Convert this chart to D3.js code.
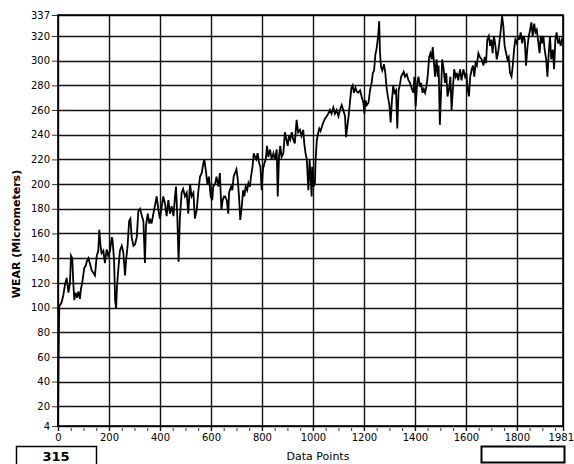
<!DOCTYPE html>
<html>
<head>
<meta charset="utf-8">
<script src="https://cdn.jsdelivr.net/npm/d3@7/dist/d3.min.js"></script>
<style>
  html, body { margin: 0; padding: 0; background: #fff; }
  svg { display: block; }
  .tick text { font-family: "DejaVu Sans", Verdana, sans-serif; font-size: 10px; fill: #000; }
</style>
</head>
<body>
<script>
// Sample positions (data point number) and measured wear in micrometers
const sampleIndex = [
  0,2,5,14,21,27,34,41,47,51,56,60,64,69,75,80,86,90,95,103,109,114,119,126,132,139,145,152,158,162,167,171,178,184,191,197,204,211,214,220,224,228,231,237,243,250,256,263,267,273,279,284,289,296,302,309,315,322,328,335,341,345,352,358,
  361,367,374,380,387,394,400,407,413,420,426,433,439,446,453,459,463,468,473,478,485,491,498,505,511,518,524,531,537,544,550,557,564,570,574,581,586,592,599,605,609,616,622,629,635,641,646,651,
  655,662,668,671,679,684,689,694,700,705,710,715,721,726,731,736,742,747,753,757,763,768,773,778,783,789,794,799,804,810,815,820,825,832,838,845,851,858,862,867,872,877,884,890,896,901,906,911,917,923,929,936,942,949,955,962,966,971,976,982,987,992,995,997,1003,1008,
  1010,1015,1020,1025,1030,1036,1041,1047,1054,1060,1067,1073,1080,1086,1093,1100,1106,1113,1119,1126,1130,1135,1140,1146,1151,1156,1161,1167,1172,1178,1185,1191,1198,1202,1206,1211,1218,1224,1231,1235,1240,1245,1250,1256,1260,1263,1267,1272,1279,1284,1289,1294,1300,1305,1310,1315,1320,1326,1331,1336,1341,1346,
  1351,1356,1361,1368,1375,1381,1388,1394,1398,1403,1409,1414,1419,1424,1430,1435,1440,1445,1450,1456,1461,1466,1470,1475,1479,1485,1490,1493,1498,1502,1507,1513,1518,1523,1528,1534,1539,1544,1549,1554,1560,1565,1570,1577,1583,1590,1597,1602,1607,1612,1617,1623,1628,1633,1638,1643,1649,1655,
  1662,1669,1674,1679,1684,1690,1695,1700,1705,1710,1716,1721,1726,1731,1737,1742,1747,1752,1758,1763,1768,1773,1779,1784,1789,1794,1800,1805,1810,1815,1821,1826,1831,1836,1842,1847,1852,1857,1862,1868,1873,1878,1883,1889,1894,1899,1904,1909,1915,1920,1925,1930,1935,1941,1946,1951,1956,1962,1967,1972,1977,1981
];
const wear = [
  4,57,101,104,110,118,124,112,120,142,140,120,106,112,108,113,107,115,120,132,134,138,140,135,130,128,126,142,146,163,150,144,146,136,147,142,146,157,155,138,106,99,116,132,146,150,145,126,138,150,170,172,157,150,151,157,178,180,175,170,136,166,176,168,
  172,168,176,182,190,179,172,182,190,184,174,187,176,182,174,190,198,174,137,172,193,196,190,193,176,200,190,193,172,179,193,206,209,217,220,209,200,206,190,187,198,200,206,198,209,179,187,190,
  190,187,176,193,198,195,206,209,212,204,190,171,182,195,190,198,195,201,198,206,214,225,222,220,225,217,214,195,212,217,220,231,222,228,220,225,220,228,190,222,231,222,225,242,236,231,239,236,242,236,233,252,242,244,239,244,233,225,220,195,220,201,190,214,198,201,
  217,235,241,245,243,247,250,253,255,257,260,257,262,257,260,255,260,264,260,255,238,247,255,268,278,280,274,278,275,274,276,271,266,257,268,264,266,276,283,290,292,305,310,320,332,307,295,292,297,290,278,271,264,250,268,280,274,276,245,276,280,287,
  289,291,287,289,284,282,277,274,287,263,282,287,279,282,274,277,274,279,287,303,306,301,311,298,287,301,287,296,248,271,301,293,282,290,271,277,287,260,277,293,287,290,284,293,284,293,287,290,277,271,287,293,296,287,298,296,306,303,
  301,296,303,298,317,320,312,317,306,320,312,301,306,314,325,336,328,312,306,301,303,290,287,296,309,317,314,320,317,323,314,320,317,296,312,320,325,331,320,330,323,325,317,306,320,314,320,309,301,287,306,320,301,309,293,317,323,314,317,312,317,315
];

// Axis tick values
const xTicks = [0, 200, 400, 600, 800, 1000, 1200, 1400, 1600, 1800, 1981];
const xMinorTicks = [50,100,150,250,300,350,450,500,550,650,700,750,850,900,950,1050,1100,1150,1250,1300,1350,1450,1500,1550,1650,1700,1750,1850,1900,1950];
const yTicks = [4, 20, 40, 60, 80, 100, 120, 140, 160, 180, 200, 220, 240, 260, 280, 300, 320, 337];

const xTitle = "Data Points";
const yTitle = "WEAR (Micrometers)";

const W = 574, H = 464;
const plot = { left: 58, right: 563, top: 15, bottom: 426 };

const svg = d3.select("body").append("svg")
  .attr("width", W).attr("height", H)
  .attr("viewBox", `0 0 ${W} ${H}`);

const x = d3.scaleLinear().domain([0, 1981]).range([plot.left, plot.right]);
const y = d3.scaleLinear().domain([4, 337]).range([plot.bottom, plot.top]);

// Grid
const grid = svg.append("g").attr("stroke", "#111").attr("stroke-width", 1.4);
grid.selectAll("line.h").data(yTicks).join("line")
  .attr("class", "h")
  .attr("x1", plot.left).attr("x2", plot.right)
  .attr("y1", d => Math.round(y(d)) + 0.5).attr("y2", d => Math.round(y(d)) + 0.5);
grid.selectAll("line.v").data(xTicks).join("line")
  .attr("class", "v")
  .attr("y1", plot.top).attr("y2", plot.bottom)
  .attr("x1", d => Math.round(x(d)) + 0.5).attr("x2", d => Math.round(x(d)) + 0.5);

// Axes
const yAxis = svg.append("g")
  .attr("transform", `translate(${plot.left},0)`)
  .call(d3.axisLeft(y).tickValues(yTicks).tickSize(6).tickPadding(2).tickFormat(d3.format("d")));
yAxis.select(".domain").remove();
yAxis.selectAll(".tick line").attr("stroke", "#333").attr("stroke-width", 1);

const xAxis = svg.append("g")
  .attr("transform", `translate(0,${plot.bottom})`)
  .call(d3.axisBottom(x).tickValues(xTicks).tickSize(5).tickPadding(3).tickFormat(d3.format("d")));
xAxis.select(".domain").remove();
xAxis.selectAll(".tick line").attr("stroke", "#111").attr("stroke-width", 1.4);
// keep the last label inside the canvas
xAxis.selectAll(".tick text").filter(d => d === 1981)
  .attr("text-anchor", "end").attr("x", 10.5);

const xMinor = svg.append("g")
  .attr("transform", `translate(0,${plot.bottom + 2})`)
  .call(d3.axisBottom(x).tickValues(xMinorTicks).tickSize(3).tickFormat(""));
xMinor.select(".domain").remove();
xMinor.selectAll(".tick line").attr("stroke", "#333").attr("stroke-width", 1);

// Wear trace
const series = sampleIndex.map((i, k) => [i, wear[k]]);
svg.append("path")
  .datum(series)
  .attr("fill", "none")
  .attr("stroke", "#000")
  .attr("stroke-width", 1.8)
  .attr("stroke-linejoin", "miter")
  .attr("d", d3.line().x(d => x(d[0])).y(d => y(d[1])));

// Plot frame
svg.append("rect")
  .attr("x", plot.left).attr("y", plot.top)
  .attr("width", plot.right - plot.left).attr("height", plot.bottom - plot.top)
  .attr("fill", "none").attr("stroke", "#000").attr("stroke-width", 1.6);

// Titles
svg.append("text")
  .attr("x", 318).attr("y", 460)
  .attr("text-anchor", "middle")
  .attr("font-family", "DejaVu Sans, Verdana, sans-serif")
  .attr("font-size", 11)
  .text(xTitle);

svg.append("text")
  .attr("transform", `translate(20,234) rotate(-90)`)
  .attr("text-anchor", "middle")
  .attr("font-family", "DejaVu Sans, Verdana, sans-serif")
  .attr("font-weight", "bold")
  .attr("font-size", 11)
  .text(yTitle);

// Current value readout and empty indicator box
svg.append("rect")
  .attr("x", 16.5).attr("y", 446.5).attr("width", 80).attr("height", 20)
  .attr("fill", "#fff").attr("stroke", "#000").attr("stroke-width", 1.5);
svg.append("text")
  .attr("x", 56).attr("y", 461)
  .attr("text-anchor", "middle")
  .attr("font-family", "DejaVu Sans, Verdana, sans-serif")
  .attr("font-weight", "bold")
  .attr("font-size", 13)
  .text(wear[wear.length - 1]);

svg.append("rect")
  .attr("x", 481.5).attr("y", 446.5).attr("width", 83).attr("height", 16)
  .attr("fill", "#fff").attr("stroke", "#000").attr("stroke-width", 2);
</script>
</body>
</html>
